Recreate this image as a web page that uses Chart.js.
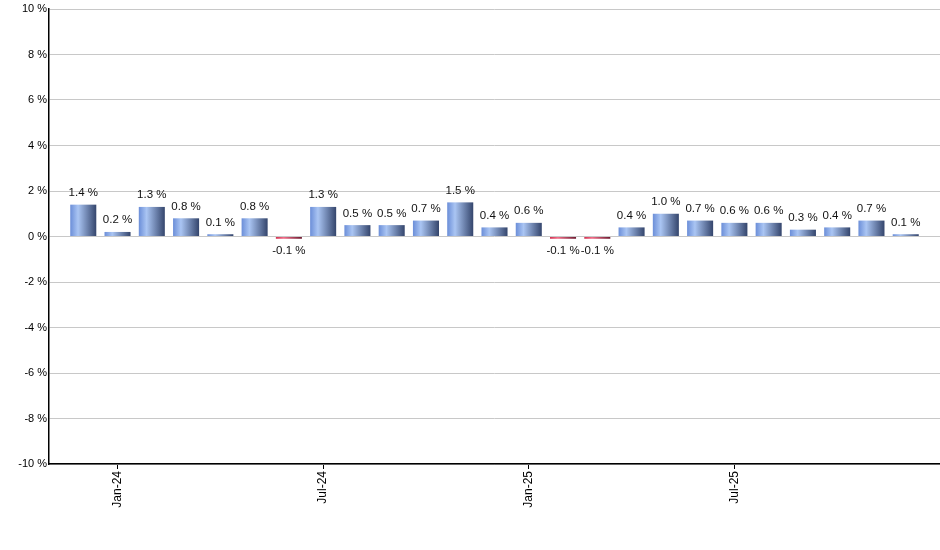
<!DOCTYPE html>
<html>
<head>
<meta charset="utf-8">
<script src="https://cdn.jsdelivr.net/npm/chart.js@4.4.0/dist/chart.umd.min.js"></script>
<style>
html,body{margin:0;padding:0;background:#fff;}
#wrap{width:940px;height:550px;position:relative;}
</style>
</head>
<body>
<div id="wrap"><canvas id="c" width="940" height="550"></canvas></div>
<script>
// Months Dec-23 .. Dec-25
const months = ["Dec-23","Jan-24","Feb-24","Mar-24","Apr-24","May-24","Jun-24","Jul-24","Aug-24","Sep-24","Oct-24","Nov-24","Dec-24","Jan-25","Feb-25","Mar-25","Apr-25","May-25","Jun-25","Jul-25","Aug-25","Sep-25","Oct-25","Nov-25","Dec-25"];
const changes = [1.4,0.2,1.3,0.8,0.1,0.8,-0.1,1.3,0.5,0.5,0.7,1.5,0.4,0.6,-0.1,-0.1,0.4,1.0,0.7,0.6,0.6,0.3,0.4,0.7,0.1];
const labeledMonths = ["Jan-24","Jul-24","Jan-25","Jul-25"];
const yTicks = [-10,-8,-6,-4,-2,0,2,4,6,8,10];

const FONT = "'Liberation Sans', Arial, sans-serif";
const BAR_FRAC = 0.76;

function barFill(c){
  const ch = c.chart;
  const xs = ch.scales && ch.scales.x;
  const v = changes[c.dataIndex];
  const flat = v >= 0 ? '#7f9fdf' : '#cc3f5a';
  if (!xs || c.type !== 'data') return flat;
  const cx = xs.getPixelForValue(c.dataIndex);
  const w = Math.abs(xs.getPixelForValue(1) - xs.getPixelForValue(0)) * BAR_FRAC;
  if (!isFinite(cx) || !isFinite(w) || w <= 0) return flat;
  const g = ch.ctx.createLinearGradient(cx - w/2, 0, cx + w/2, 0);
  if (v >= 0) {
    g.addColorStop(0, '#6b8ed8');
    g.addColorStop(0.3, '#aac5f3');
    g.addColorStop(1, '#34456c');
  } else {
    g.addColorStop(0, '#d0304f');
    g.addColorStop(0.3, '#f06d88');
    g.addColorStop(1, '#6c1a30');
  }
  return g;
}

const valueLabels = {
  id: 'valueLabels',
  afterDatasetsDraw(chart){
    const ctx = chart.ctx;
    const meta = chart.getDatasetMeta(0);
    ctx.save();
    ctx.font = "11.5px " + FONT;
    ctx.fillStyle = '#111';
    ctx.textAlign = 'center';
    meta.data.forEach((el, i) => {
      const v = changes[i];
      const t = v.toFixed(1) + ' %';
      if (v >= 0) {
        ctx.textBaseline = 'bottom';
        ctx.fillText(t, el.x, el.y - 6);
      } else {
        ctx.textBaseline = 'top';
        ctx.fillText(t, el.x, el.y + 6);
      }
    });
    ctx.restore();
  }
};

new Chart(document.getElementById('c'), {
  type: 'bar',
  data: {
    datasets: [{
      data: changes.map((v, i) => ({x: i, y: v})),
      backgroundColor: barFill,
      borderWidth: 0,
      categoryPercentage: BAR_FRAC,
      barPercentage: 1.0
    }]
  },
  options: {
    responsive: false,
    animation: false,
    devicePixelRatio: 1,
    layout: {padding: {top: 9, right: 0, left: 0, bottom: 0}},
    plugins: {legend: {display: false}, tooltip: {enabled: false}},
    scales: {
      x: {
        type: 'linear',
        min: -1,
        max: 25,
        offset: false,
        afterBuildTicks(scale){
          scale.ticks = labeledMonths.map(m => ({value: months.indexOf(m)}));
        },
        afterFit(scale){ scale.height = 86; },
        ticks: {
          autoSkip: false,
          minRotation: 90,
          maxRotation: 90,
          padding: 2,
          color: '#000',
          font: {family: FONT, size: 12},
          callback: (v) => months[v]
        },
        grid: {offset: false, drawOnChartArea: false, drawTicks: true, tickLength: 5, color: '#000'},
        border: {color: '#000', width: 1.5}
      },
      y: {
        min: -10,
        max: 10,
        afterBuildTicks(scale){
          scale.ticks = yTicks.map(v => ({value: v}));
        },
        afterFit(scale){ scale.width = 49; },
        ticks: {
          padding: 2,
          color: '#000',
          font: {family: FONT, size: 11},
          callback: (v) => v + ' %'
        },
        grid: {color: '#c8c8c8', drawTicks: false},
        border: {color: '#000', width: 1.5}
      }
    }
  },
  plugins: [valueLabels]
});
</script>
</body>
</html>
